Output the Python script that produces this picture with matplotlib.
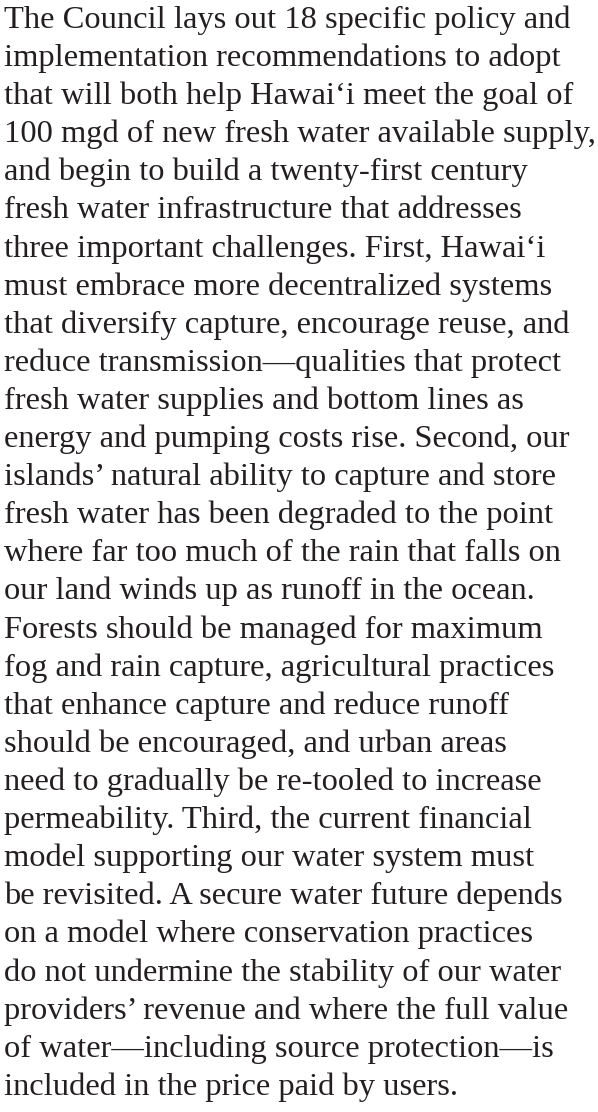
import matplotlib
matplotlib.use("Agg")
import matplotlib.pyplot as plt

lines = [
    "The Council lays out 18 specific policy and",
    "implementation recommendations to adopt",
    "that will both help Hawai\u2018i meet the goal of",
    "100 mgd of new fresh water available supply,",
    "and begin to build a twenty-first century",
    "fresh water infrastructure that addresses",
    "three important challenges. First, Hawai\u2018i",
    "must embrace more decentralized systems",
    "that diversify capture, encourage reuse, and",
    "reduce transmission\u2014qualities that protect",
    "fresh water supplies and bottom lines as",
    "energy and pumping costs rise. Second, our",
    "islands\u2019 natural ability to capture and store",
    "fresh water has been degraded to the point",
    "where far too much of the rain that falls on",
    "our land winds up as runoff in the ocean.",
    "Forests should be managed for maximum",
    "fog and rain capture, agricultural practices",
    "that enhance capture and reduce runoff",
    "should be encouraged, and urban areas",
    "need to gradually be re-tooled to increase",
    "permeability. Third, the current financial",
    "model supporting our water system must",
    "be revisited. A secure water future depends",
    "on a model where conservation practices",
    "do not undermine the stability of our water",
    "providers\u2019 revenue and where the full value",
    "of water\u2014including source protection\u2014is",
    "included in the price paid by users.",
]

W, H = 598, 1112
first_base = 28      # px from top, baseline of line 1
step = 38.1          # px between baselines
left = 4
target_w = 591       # width of widest line in px

fig = plt.figure(figsize=(W / 100, H / 100), dpi=100)
fig.patch.set_facecolor("white")

# size the font so the widest line fills the same width as in the page
family = "Liberation Serif"
probe = fig.text(0, 0, lines[2], fontsize=20, family=family)
r = fig.canvas.get_renderer()
wmax = 0
for s in lines:
    probe.set_text(s)
    wmax = max(wmax, probe.get_window_extent(r).width)
probe.remove()
fs = 20 * target_w / wmax

for i, s in enumerate(lines):
    y = first_base + i * step
    fig.text(left / W, 1 - y / H, s, fontsize=fs, family=family,
             color="#231f20", va="baseline", ha="left")

fig.savefig("out.png", dpi=100, facecolor="white")
